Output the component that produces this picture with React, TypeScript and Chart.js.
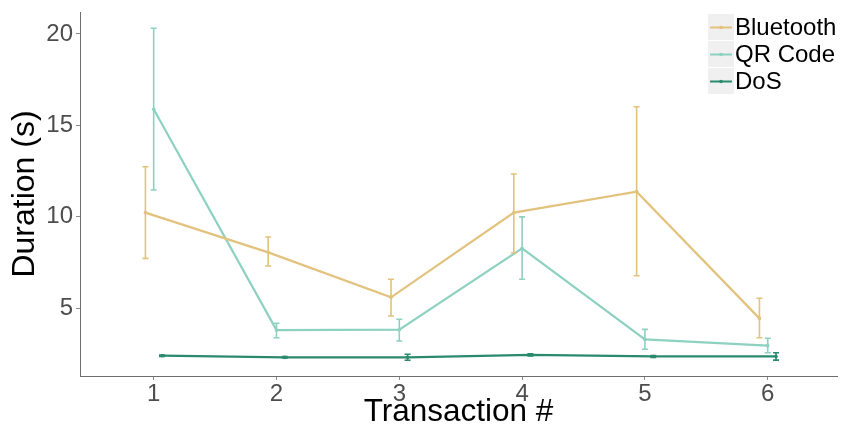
import React, { useEffect, useRef } from "react";
import { Chart, registerables } from "chart.js";

Chart.register(...registerables);

const categories = [1, 2, 3, 4, 5, 6];
const seriesNames = ["Bluetooth", "QR Code", "DoS"];

const bluetoothMean = [10.23, 8.06, 5.6, 10.23, 11.38, 4.45];
const bluetoothUpper = [12.74, 8.9, 6.59, 12.34, 16.02, 5.55];
const bluetoothLower = [7.73, 7.31, 4.58, 8.04, 6.78, 3.39];

const qrMean = [15.88, 3.81, 3.83, 8.28, 3.3, 2.96];
const qrUpper = [20.31, 4.18, 4.4, 10.0, 3.85, 3.36];
const qrLower = [11.47, 3.39, 3.21, 6.59, 2.76, 2.57];

const dosMean = [2.41, 2.32, 2.32, 2.46, 2.37, 2.37];
const dosUpper = [2.45, 2.36, 2.49, 2.52, 2.42, 2.57];
const dosLower = [2.37, 2.28, 2.16, 2.4, 2.32, 2.17];

const yTicks = [5, 10, 15, 20];

const colors = ["#E2C27D", "#8DD1C0", "#2B8A6E"];
const dodge = [-0.0675, 0, 0.0675];
const FONT = "'Liberation Sans', Arial, sans-serif";

export default function App() {
  const ref = useRef<HTMLCanvasElement>(null);

  useEffect(() => {
    const means = [bluetoothMean, qrMean, dosMean];
    const uppers = [bluetoothUpper, qrUpper, dosUpper];
    const lowers = [bluetoothLower, qrLower, dosLower];

    const errorBars = {
      id: "errorBars",
      afterDatasetDraw(chart: any, args: any) {
        const i = args.index;
        const ctx = chart.ctx;
        const xs = chart.scales.x;
        const ys = chart.scales.y;
        ctx.save();
        ctx.strokeStyle = colors[i];
        ctx.lineWidth = 1.6;
        categories.forEach((c, j) => {
          const x = xs.getPixelForValue(c + dodge[i]);
          const yU = ys.getPixelForValue(uppers[i][j]);
          const yL = ys.getPixelForValue(lowers[i][j]);
          ctx.beginPath();
          ctx.moveTo(x, yU);
          ctx.lineTo(x, yL);
          ctx.moveTo(x - 3, yU);
          ctx.lineTo(x + 3, yU);
          ctx.moveTo(x - 3, yL);
          ctx.lineTo(x + 3, yL);
          ctx.stroke();
        });
        ctx.restore();
      },
    };

    const legendPlugin = {
      id: "customLegend",
      afterDraw(chart: any) {
        const ctx = chart.ctx;
        ctx.save();
        const kx = 708;
        const kw = 26;
        const top = 14;
        const rh = 27;
        seriesNames.forEach((name, i) => {
          const y0 = top + i * rh;
          ctx.fillStyle = "#F0F0F0";
          ctx.fillRect(kx, y0, kw, rh - 1);
          const cy = y0 + rh / 2;
          ctx.strokeStyle = colors[i];
          ctx.lineWidth = 2;
          ctx.beginPath();
          ctx.moveTo(kx + 2, cy);
          ctx.lineTo(kx + kw - 2, cy);
          ctx.stroke();
          ctx.fillStyle = colors[i];
          ctx.beginPath();
          ctx.arc(kx + kw / 2, cy, 1.8, 0, Math.PI * 2);
          ctx.fill();
          ctx.fillStyle = "#000000";
          ctx.font = `24px ${FONT}`;
          ctx.textBaseline = "middle";
          ctx.textAlign = "left";
          ctx.fillText(name, kx + kw + 1, cy + 1);
        });
        ctx.restore();
      },
    };

    const datasets = seriesNames.map((name, i) => ({
      label: name,
      data: categories.map((c, j) => ({ x: c + dodge[i], y: means[i][j] })),
      borderColor: colors[i],
      backgroundColor: colors[i],
      borderWidth: 2.2,
      pointRadius: 1.8,
      pointBorderWidth: 0,
      pointBackgroundColor: colors[i],
      tension: 0,
      fill: false,
    }));

    const zeroPad = (scale: any) => {
      scale.paddingTop = 0;
      scale.paddingBottom = 0;
      scale.paddingLeft = 0;
      scale.paddingRight = 0;
    };

    const chart = new Chart(ref.current as HTMLCanvasElement, {
      type: "line",
      data: { datasets },
      options: {
        animation: false,
        responsive: false,
        devicePixelRatio: 1,
        layout: { padding: { top: 12, right: 1, left: 0, bottom: 0 } },
        plugins: { legend: { display: false }, tooltip: { enabled: false } },
        scales: {
          x: {
            type: "linear",
            min: 0.4,
            max: 6.564,
            afterBuildTicks: (scale: any) => {
              scale.ticks = categories.map((v) => ({ value: v }));
            },
            afterFit: (scale: any) => {
              scale.height = 49;
              zeroPad(scale);
            },
            grid: {
              drawOnChartArea: false,
              drawTicks: true,
              tickLength: 4,
              tickColor: "#8A8A8A",
            },
            border: { display: true, color: "#6E6E6E", width: 1 },
            ticks: {
              color: "#4D4D4D",
              font: { family: FONT, size: 24 },
              padding: 0,
              maxRotation: 0,
              callback: (v: any) => String(v),
            },
            title: {
              display: true,
              text: "Transaction #",
              color: "#000000",
              font: { family: FONT, size: 31.5, lineHeight: 0.8 },
              padding: { top: 0, bottom: 0 },
            },
          },
          y: {
            type: "linear",
            min: 1.3,
            max: 21.2,
            afterBuildTicks: (scale: any) => {
              scale.ticks = yTicks.map((v) => ({ value: v }));
            },
            afterFit: (scale: any) => {
              scale.width = 80;
              zeroPad(scale);
            },
            grid: {
              drawOnChartArea: false,
              drawTicks: true,
              tickLength: 4,
              tickColor: "#8A8A8A",
            },
            border: { display: true, color: "#6E6E6E", width: 1 },
            ticks: {
              color: "#4D4D4D",
              font: { family: FONT, size: 24 },
              padding: 3,
              callback: (v: any) => String(v),
            },
            title: {
              display: true,
              text: "Duration (s)",
              color: "#000000",
              font: { family: FONT, size: 32, lineHeight: 1 },
              padding: { top: 9, bottom: 0 },
            },
          },
        },
      },
      plugins: [errorBars, legendPlugin],
    });
    return () => chart.destroy();
  }, []);

  return (
    <div style={{ position: "absolute", left: 0, top: 0, width: 841, height: 425, background: "#fff" }}>
      <canvas ref={ref} width={841} height={425} style={{ display: "block" }} />
    </div>
  );
}
